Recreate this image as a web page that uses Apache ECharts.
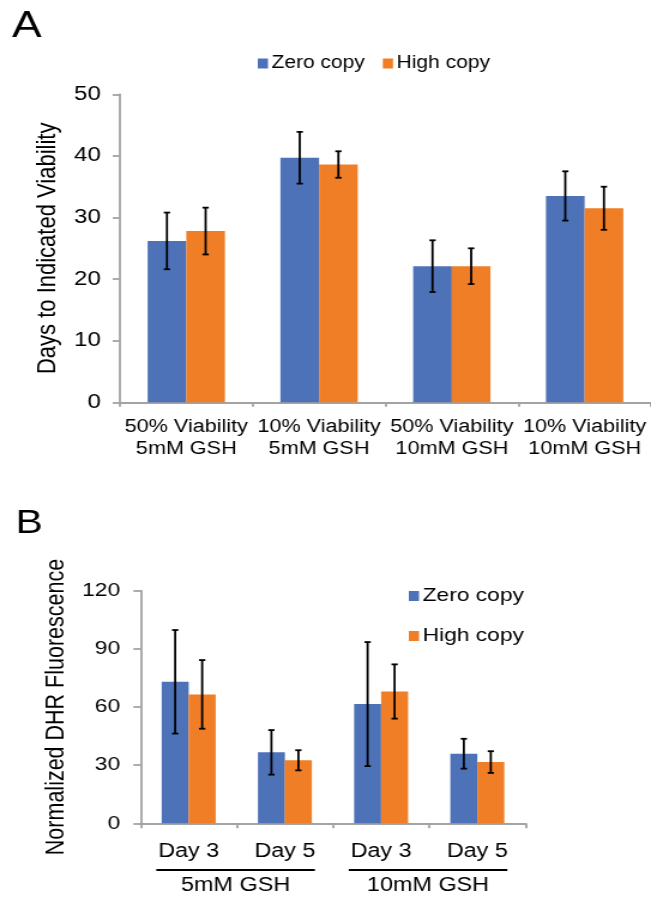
<!DOCTYPE html>
<html>
<head>
<meta charset="utf-8">
<script src="https://cdn.jsdelivr.net/npm/echarts@6/dist/echarts.min.js"></script>
<style>
  html, body { margin: 0; padding: 0; background: #fff; overflow: hidden; }
  #wrap { width: 651px; height: 897px; overflow: hidden; }
  /* the figure is drawn on a narrower canvas and widened horizontally */
  #chart { width: 543px; height: 897px; transform: scaleX(1.1989); transform-origin: 0 0; }
</style>
</head>
<body>
<div id="wrap"><div id="chart"></div></div>
<script>
// ---- Panel A: days to indicated viability ----
const viabilityCategories = ['50% Viability\n5mM GSH', '10% Viability\n5mM GSH', '50% Viability\n10mM GSH', '10% Viability\n10mM GSH'];
const viabilityZero = [26.2, 39.7, 22.1, 33.5];
const viabilityZeroErr = [4.6, 4.2, 4.2, 4.0];
const viabilityHigh = [27.8, 38.6, 22.1, 31.5];
const viabilityHighErr = [3.8, 2.15, 2.9, 3.5];

// ---- Panel B: normalized DHR fluorescence ----
const dhrCategories = ['Day 3', 'Day 5', 'Day 3', 'Day 5'];
const dhrGroups = ['5mM GSH', '10mM GSH'];
const dhrZero = [73.0, 36.6, 61.5, 35.9];
const dhrZeroErr = [26.7, 11.5, 32.0, 7.7];
const dhrHigh = [66.5, 32.5, 68.0, 31.6];
const dhrHighErr = [17.7, 5.2, 14.0, 5.6];

const seriesNames = ['Zero copy', 'High copy'];
const blue = '#4e72b8';
const orange = '#f07e26';
const axisGray = '#a3a3a3';
const font = '"Liberation Sans", Arial, Helvetica, sans-serif';
const barWA = 32.25;
const barWB = 22.5;

function errorSeries(name, axisIdx, vals, errs, side, barW) {
  return {
    type: 'custom',
    name: name + ' error',
    xAxisIndex: axisIdx,
    yAxisIndex: axisIdx,
    z: 5,
    silent: true,
    data: vals.map((v, i) => [i, v, errs[i]]),
    renderItem(params, api) {
      const i = api.value(0), v = api.value(1), e = api.value(2);
      const hi = api.coord([i, v + e]);
      const lo = api.coord([i, v - e]);
      const x = hi[0] + side * barW / 2;
      const cap = 2.6;
      const st = { stroke: '#000', lineWidth: 1.8 };
      return {
        type: 'group',
        children: [
          { type: 'line', shape: { x1: x, y1: hi[1], x2: x, y2: lo[1] }, style: st },
          { type: 'line', shape: { x1: x - cap, y1: hi[1], x2: x + cap, y2: hi[1] }, style: st },
          { type: 'line', shape: { x1: x - cap, y1: lo[1], x2: x + cap, y2: lo[1] }, style: st }
        ]
      };
    }
  };
}

function barSeries(name, axisIdx, vals, color, barW) {
  return {
    type: 'bar',
    name: name,
    xAxisIndex: axisIdx,
    yAxisIndex: axisIdx,
    data: vals,
    barWidth: barW,
    barGap: '0%',
    itemStyle: { color: color },
    z: 2
  };
}

const chart = echarts.init(document.getElementById('chart'), null, { renderer: 'canvas' });

const axisLineStyle = { show: true, lineStyle: { color: axisGray, width: 1.8 } };

const option = {
  animation: false,
  backgroundColor: '#fff',
  textStyle: { fontFamily: font, color: '#000' },
  title: [
    { text: 'A', left: 10, top: 8, padding: 0, textStyle: { fontFamily: font, fontSize: 37, fontWeight: 'normal', color: '#000' } },
    { text: 'B', left: 13, top: 507, padding: 0, textStyle: { fontFamily: font, fontSize: 34, fontWeight: 'normal', color: '#000' } }
  ],
  legend: [
    {
      data: seriesNames,
      orient: 'horizontal',
      left: 215,
      top: 54.5,
      padding: 0,
      itemWidth: 8.5,
      itemHeight: 10,
      itemGap: 15,
      selectedMode: false,
      icon: 'rect',
      textStyle: { fontFamily: font, fontSize: 17.5, color: '#000', padding: [0, 0, 0, -2] }
    },
    {
      data: seriesNames,
      orient: 'vertical',
      left: 341,
      top: 586,
      padding: 0,
      itemWidth: 8.5,
      itemHeight: 10,
      itemGap: 20,
      selectedMode: false,
      icon: 'rect',
      textStyle: { fontFamily: font, fontSize: 19, lineHeight: 20, color: '#000', padding: [0, 0, 0, -2] }
    }
  ],
  grid: [
    { left: 100, top: 94.3, width: 449, height: 308 },
    { left: 117.25, top: 590.7, width: 321, height: 232.6 }
  ],
  xAxis: [
    {
      type: 'category',
      gridIndex: 0,
      data: viabilityCategories,
      axisLine: axisLineStyle,
      axisTick: { show: true, length: 4.5, lineStyle: { color: axisGray, width: 1.8 } },
      axisLabel: { fontFamily: font, fontSize: 18, lineHeight: 22, color: '#000', margin: 14, interval: 0 }
    },
    {
      type: 'category',
      gridIndex: 1,
      data: dhrCategories,
      axisLine: axisLineStyle,
      axisTick: { show: true, length: 5, lineStyle: { color: axisGray, width: 1.8 } },
      axisLabel: { fontFamily: font, fontSize: 19.5, color: '#000', margin: 18, interval: 0 }
    }
  ],
  yAxis: [
    {
      type: 'value',
      gridIndex: 0,
      min: 0, max: 50, interval: 10,
      name: 'Days to Indicated Viability',
      nameLocation: 'middle',
      nameRotate: 90,
      nameGap: 49,
      nameTextStyle: { fontFamily: font, fontSize: 22, color: '#000' },
      axisLine: axisLineStyle,
      axisTick: { show: true, length: 6, lineStyle: { color: axisGray, width: 1.8 } },
      splitLine: { show: false },
      axisLabel: { fontFamily: font, fontSize: 20, color: '#000', margin: 16 }
    },
    {
      type: 'value',
      gridIndex: 1,
      min: 0, max: 120, interval: 30,
      name: 'Normalized DHR Fluorescence',
      nameLocation: 'middle',
      nameRotate: 90,
      nameGap: 56,
      nameTextStyle: { fontFamily: font, fontSize: 21.5, color: '#000' },
      axisLine: axisLineStyle,
      axisTick: { show: true, length: 6, lineStyle: { color: axisGray, width: 1.8 } },
      splitLine: { show: false },
      axisLabel: { fontFamily: font, fontSize: 19, color: '#000', margin: 17 }
    }
  ],
  series: [
    barSeries(seriesNames[0], 0, viabilityZero, blue, barWA),
    barSeries(seriesNames[1], 0, viabilityHigh, orange, barWA),
    errorSeries(seriesNames[0], 0, viabilityZero, viabilityZeroErr, -1, barWA),
    errorSeries(seriesNames[1], 0, viabilityHigh, viabilityHighErr, 1, barWA),
    barSeries(seriesNames[0], 1, dhrZero, blue, barWB),
    barSeries(seriesNames[1], 1, dhrHigh, orange, barWB),
    errorSeries(seriesNames[0], 1, dhrZero, dhrZeroErr, -1, barWB),
    errorSeries(seriesNames[1], 1, dhrHigh, dhrHighErr, 1, barWB)
  ]
};

chart.setOption(option);

// Group brackets under the panel B axis: an underline spanning each pair of days, with its label
const baseY = chart.convertToPixel({ yAxisIndex: 1 }, 0);
const groupGraphics = [];
dhrGroups.forEach((g, k) => {
  const c0 = chart.convertToPixel({ xAxisIndex: 1 }, 2 * k);
  const c1 = chart.convertToPixel({ xAxisIndex: 1 }, 2 * k + 1);
  const x1 = c0 - barWB - 4.5;
  const x2 = c1 + barWB + 2.5;
  groupGraphics.push({
    type: 'line',
    shape: { x1: x1, y1: baseY + 46.7, x2: x2, y2: baseY + 46.7 },
    style: { stroke: '#000', lineWidth: 2 }
  });
  groupGraphics.push({
    type: 'text',
    x: (x1 + x2) / 2,
    y: baseY + 62.7,
    style: { text: g, fontFamily: font, fontSize: 19.5, fill: '#000', align: 'center', verticalAlign: 'middle' }
  });
});
chart.setOption({ graphic: groupGraphics });
</script>
</body>
</html>
